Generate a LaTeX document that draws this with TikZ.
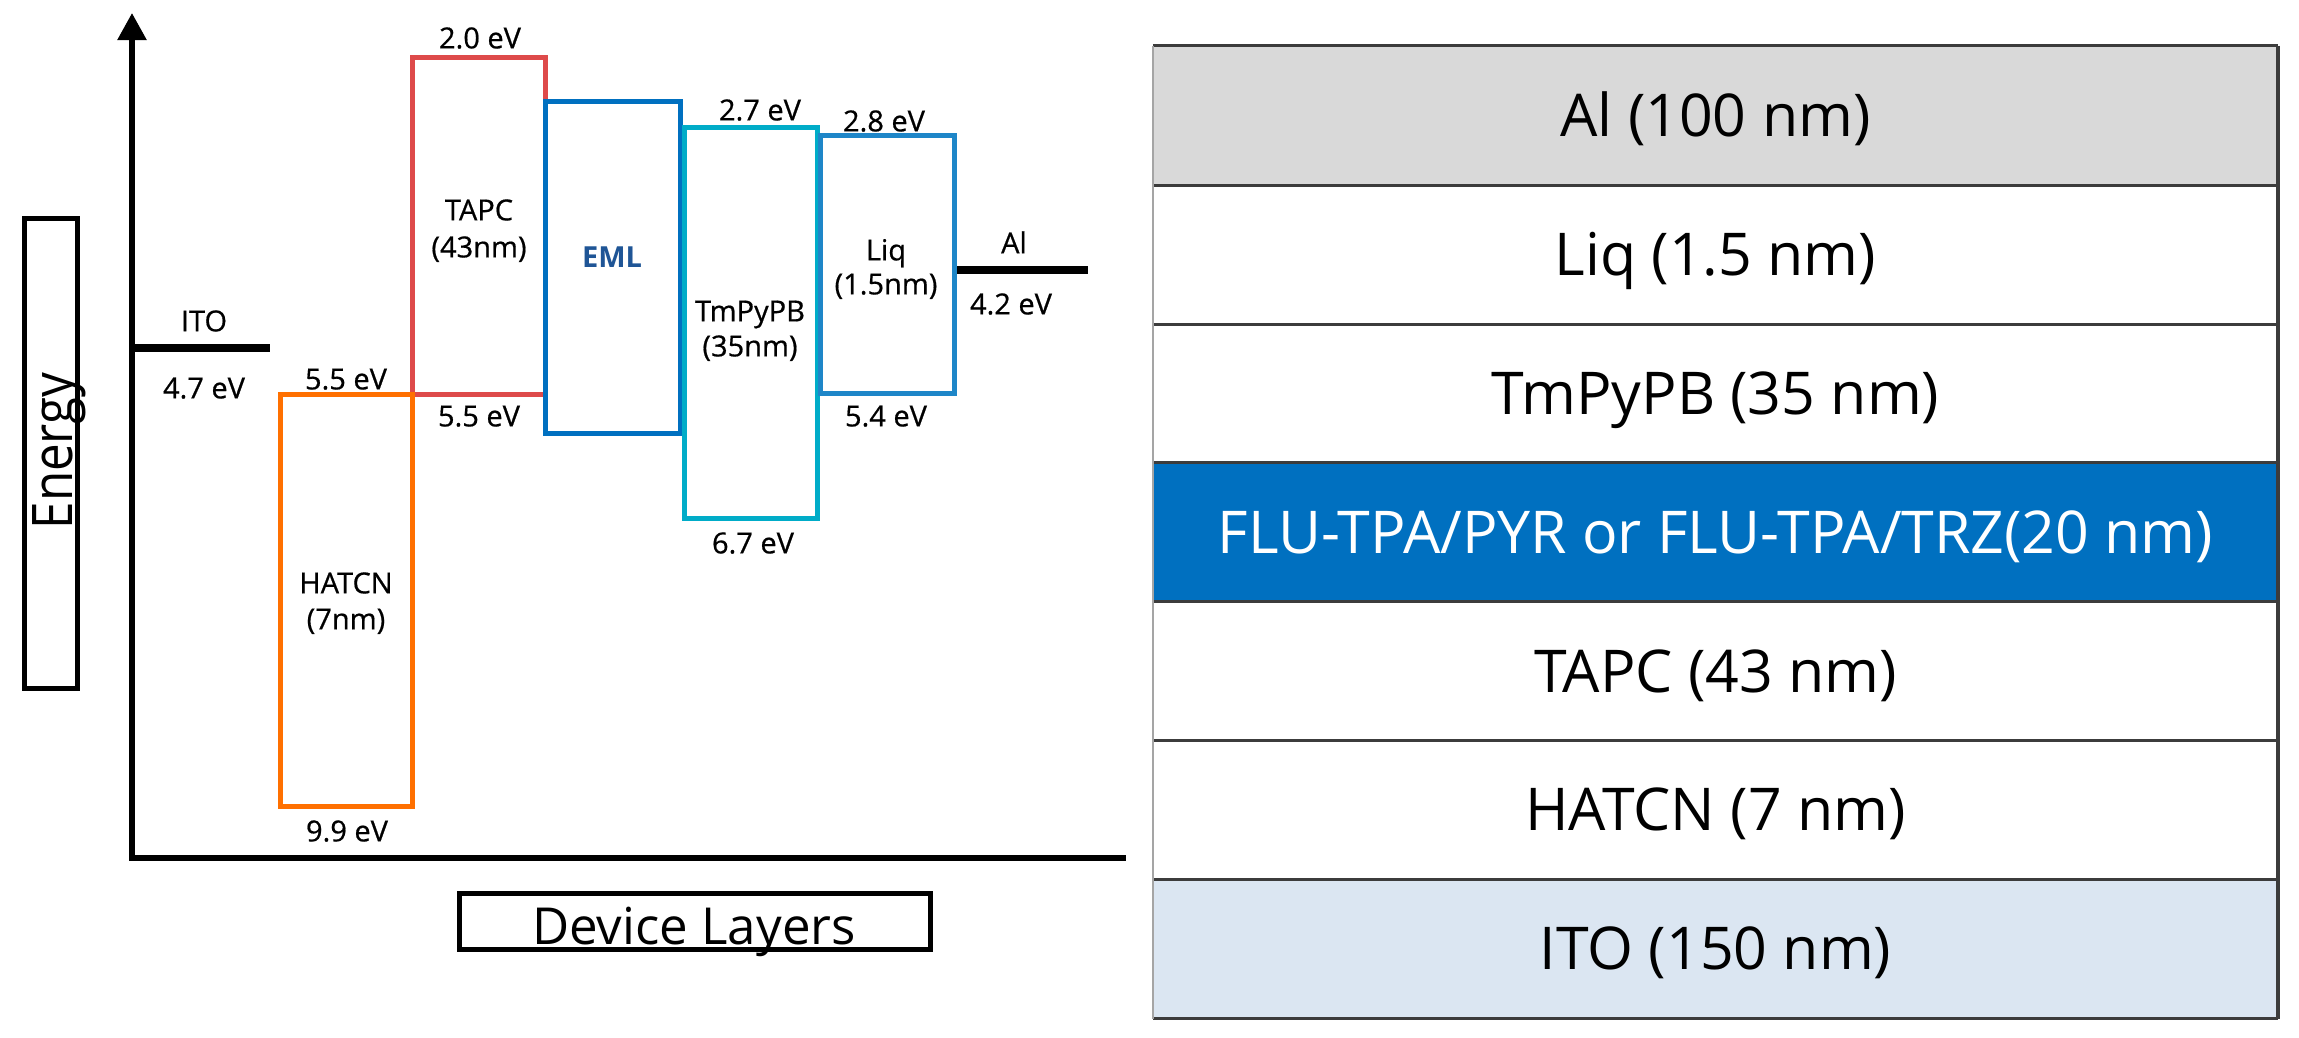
\documentclass[tikz,border=0pt]{standalone}
\usepackage{fontspec}
\setmainfont{Open Sans}
\newfontfamily\lblfont[FakeBold=0.6]{Open Sans}
\usetikzlibrary{arrows.meta}
\definecolor{hatcn}{RGB}{255,112,0}
\definecolor{tapc}{RGB}{222,74,74}
\definecolor{eml}{RGB}{0,112,192}
\definecolor{tmpypb}{RGB}{0,172,200}
\definecolor{liq}{RGB}{30,134,200}
\definecolor{emltext}{RGB}{31,85,150}
\definecolor{algray}{RGB}{217,217,217}
\definecolor{itoblue}{RGB}{219,230,242}
\definecolor{sepgray}{RGB}{60,60,60}
\definecolor{edgegray}{RGB}{165,165,165}
\begin{document}
\begin{tikzpicture}[x=1pt,y=-1pt,
  lvl/.style={draw, line width=5pt, inner sep=0pt},
  lbl/.style={inner sep=0pt, font=\lblfont\fontsize{29}{35}\selectfont, text height=20.7pt, text depth=0pt},
  row/.style={inner sep=0pt, minimum width=1125pt, minimum height=138.9pt, font=\fontsize{59}{64}\selectfont, text height=42pt, text depth=0pt},
  sep/.style={line width=3pt, sepgray},
  metal/.style={fill=black, inner sep=0pt, minimum height=7.5pt},
  framebox/.style={draw, line width=5pt, inner sep=0pt}
]
\useasboundingbox (0,0) rectangle (2299,1037);
\fill[white] (0,0) rectangle (2299,1037);

% axes
\coordinate (origin) at (132,858);
\coordinate (ytip) at (132,13);
\coordinate (xend) at (1126,858);
\draw[line width=5.5pt, line join=miter, {Triangle[length=27pt,width=28pt]}-] (ytip) -- (origin) -- (xend);

% axis titles
\node[framebox, minimum width=53pt, minimum height=470pt] (enbox) at (50.5,453) {};
\node[font=\fontsize{56}{60}\selectfont, rotate=90, anchor=base, inner sep=0pt] (entext) at (72,451) {\scalebox{0.88}[1]{Energy}};
\node[framebox, minimum width=471pt, minimum height=56pt] (devbox) at (694.5,921) {};
\node[font=\fontsize{51}{56}\selectfont, anchor=base, inner sep=0pt] (devtext) at (694,944) {Device Layers};

% electrodes
\node[metal, minimum width=135pt] (itoline) at (202.5,348) {};
\node[metal, minimum width=132pt] (alline) at (1022,270) {};

% level boxes
\node[lvl, tapc, minimum width=133pt, minimum height=337pt] (tapcbox) at (478.5,225.5) {};
\node[lvl, hatcn, minimum width=132pt, minimum height=412pt] (hatcnbox) at (346,600) {};
\node[lvl, eml, minimum width=135pt, minimum height=332pt] (emlbox) at (612.5,267) {};
\node[lvl, tmpypb, minimum width=133pt, minimum height=391pt] (tmbox) at (750.5,322.5) {};
\node[lvl, liq, minimum width=134pt, minimum height=258pt] (liqbox) at (887,264) {};

% labels
\node[lbl] (e20) at (480,38) {2.0 eV};
\node[lbl] (tapcA) at (479,210) {TAPC};
\node[lbl] (tapcB) at (479,247) {(43nm)};
\node[lbl] (e55b) at (479,416) {5.5 eV};
\node[lbl] (e55a) at (346,379) {5.5 eV};
\node[lbl] (hatA) at (346,583) {HATCN};
\node[lbl] (hatB) at (346,619) {(7nm)};
\node[lbl] (e99) at (347,831) {9.9 eV};
\node[lbl] (itoA) at (204,321) {ITO};
\node[lbl] (e47) at (204,388) {4.7 eV};
\node[lbl, emltext, font=\bfseries\fontsize{29}{35}\selectfont] (emlA) at (612,257) {EML};
\node[lbl] (e27) at (760,110) {2.7 eV};
\node[lbl] (tmA) at (750,311) {TmPyPB};
\node[lbl] (tmB) at (750,346) {(35nm)};
\node[lbl] (e67) at (753,543) {6.7 eV};
\node[lbl] (e28) at (884,121) {2.8 eV};
\node[lbl] (liqA) at (886,250) {Liq};
\node[lbl] (liqB) at (886,284) {(1.5nm)};
\node[lbl] (e54) at (886,416) {5.4 eV};
\node[lbl] (alA) at (1014,243) {Al};
\node[lbl] (e42) at (1011,304) {4.2 eV};

% device stack table
\node[row, fill=algray] (rAl) at (1715.5,115.45) {Al (100 nm)};
\node[row, fill=white] (rLiq) at (1715.5,254.35) {Liq (1.5 nm)};
\node[row, fill=white] (rTm) at (1715.5,393.25) {TmPyPB (35 nm)};
\node[row, fill=eml, text=white] (rFlu) at (1715.5,532.15) {FLU-TPA/PYR or FLU-TPA/TRZ(20 nm)};
\node[row, fill=white] (rTapc) at (1715.5,671.05) {TAPC (43 nm)};
\node[row, fill=white] (rHat) at (1715.5,809.95) {HATCN (7 nm)};
\node[row, fill=itoblue] (rIto) at (1715.5,948.85) {ITO (150 nm)};

\draw[sep] (rAl.north west) -- (rAl.north east);
\draw[sep] (rAl.south west) -- (rAl.south east);
\draw[sep] (rLiq.south west) -- (rLiq.south east);
\draw[sep] (rTm.south west) -- (rTm.south east);
\draw[sep] (rFlu.south west) -- (rFlu.south east);
\draw[sep] (rTapc.south west) -- (rTapc.south east);
\draw[sep] (rHat.south west) -- (rHat.south east);
\draw[sep] (rIto.south west) -- (rIto.south east);
\draw[line width=2pt, edgegray] (rAl.north west) -- (rIto.south west);
\draw[line width=4pt, sepgray] (rAl.north east) -- (rIto.south east);
\end{tikzpicture}
\end{document}
